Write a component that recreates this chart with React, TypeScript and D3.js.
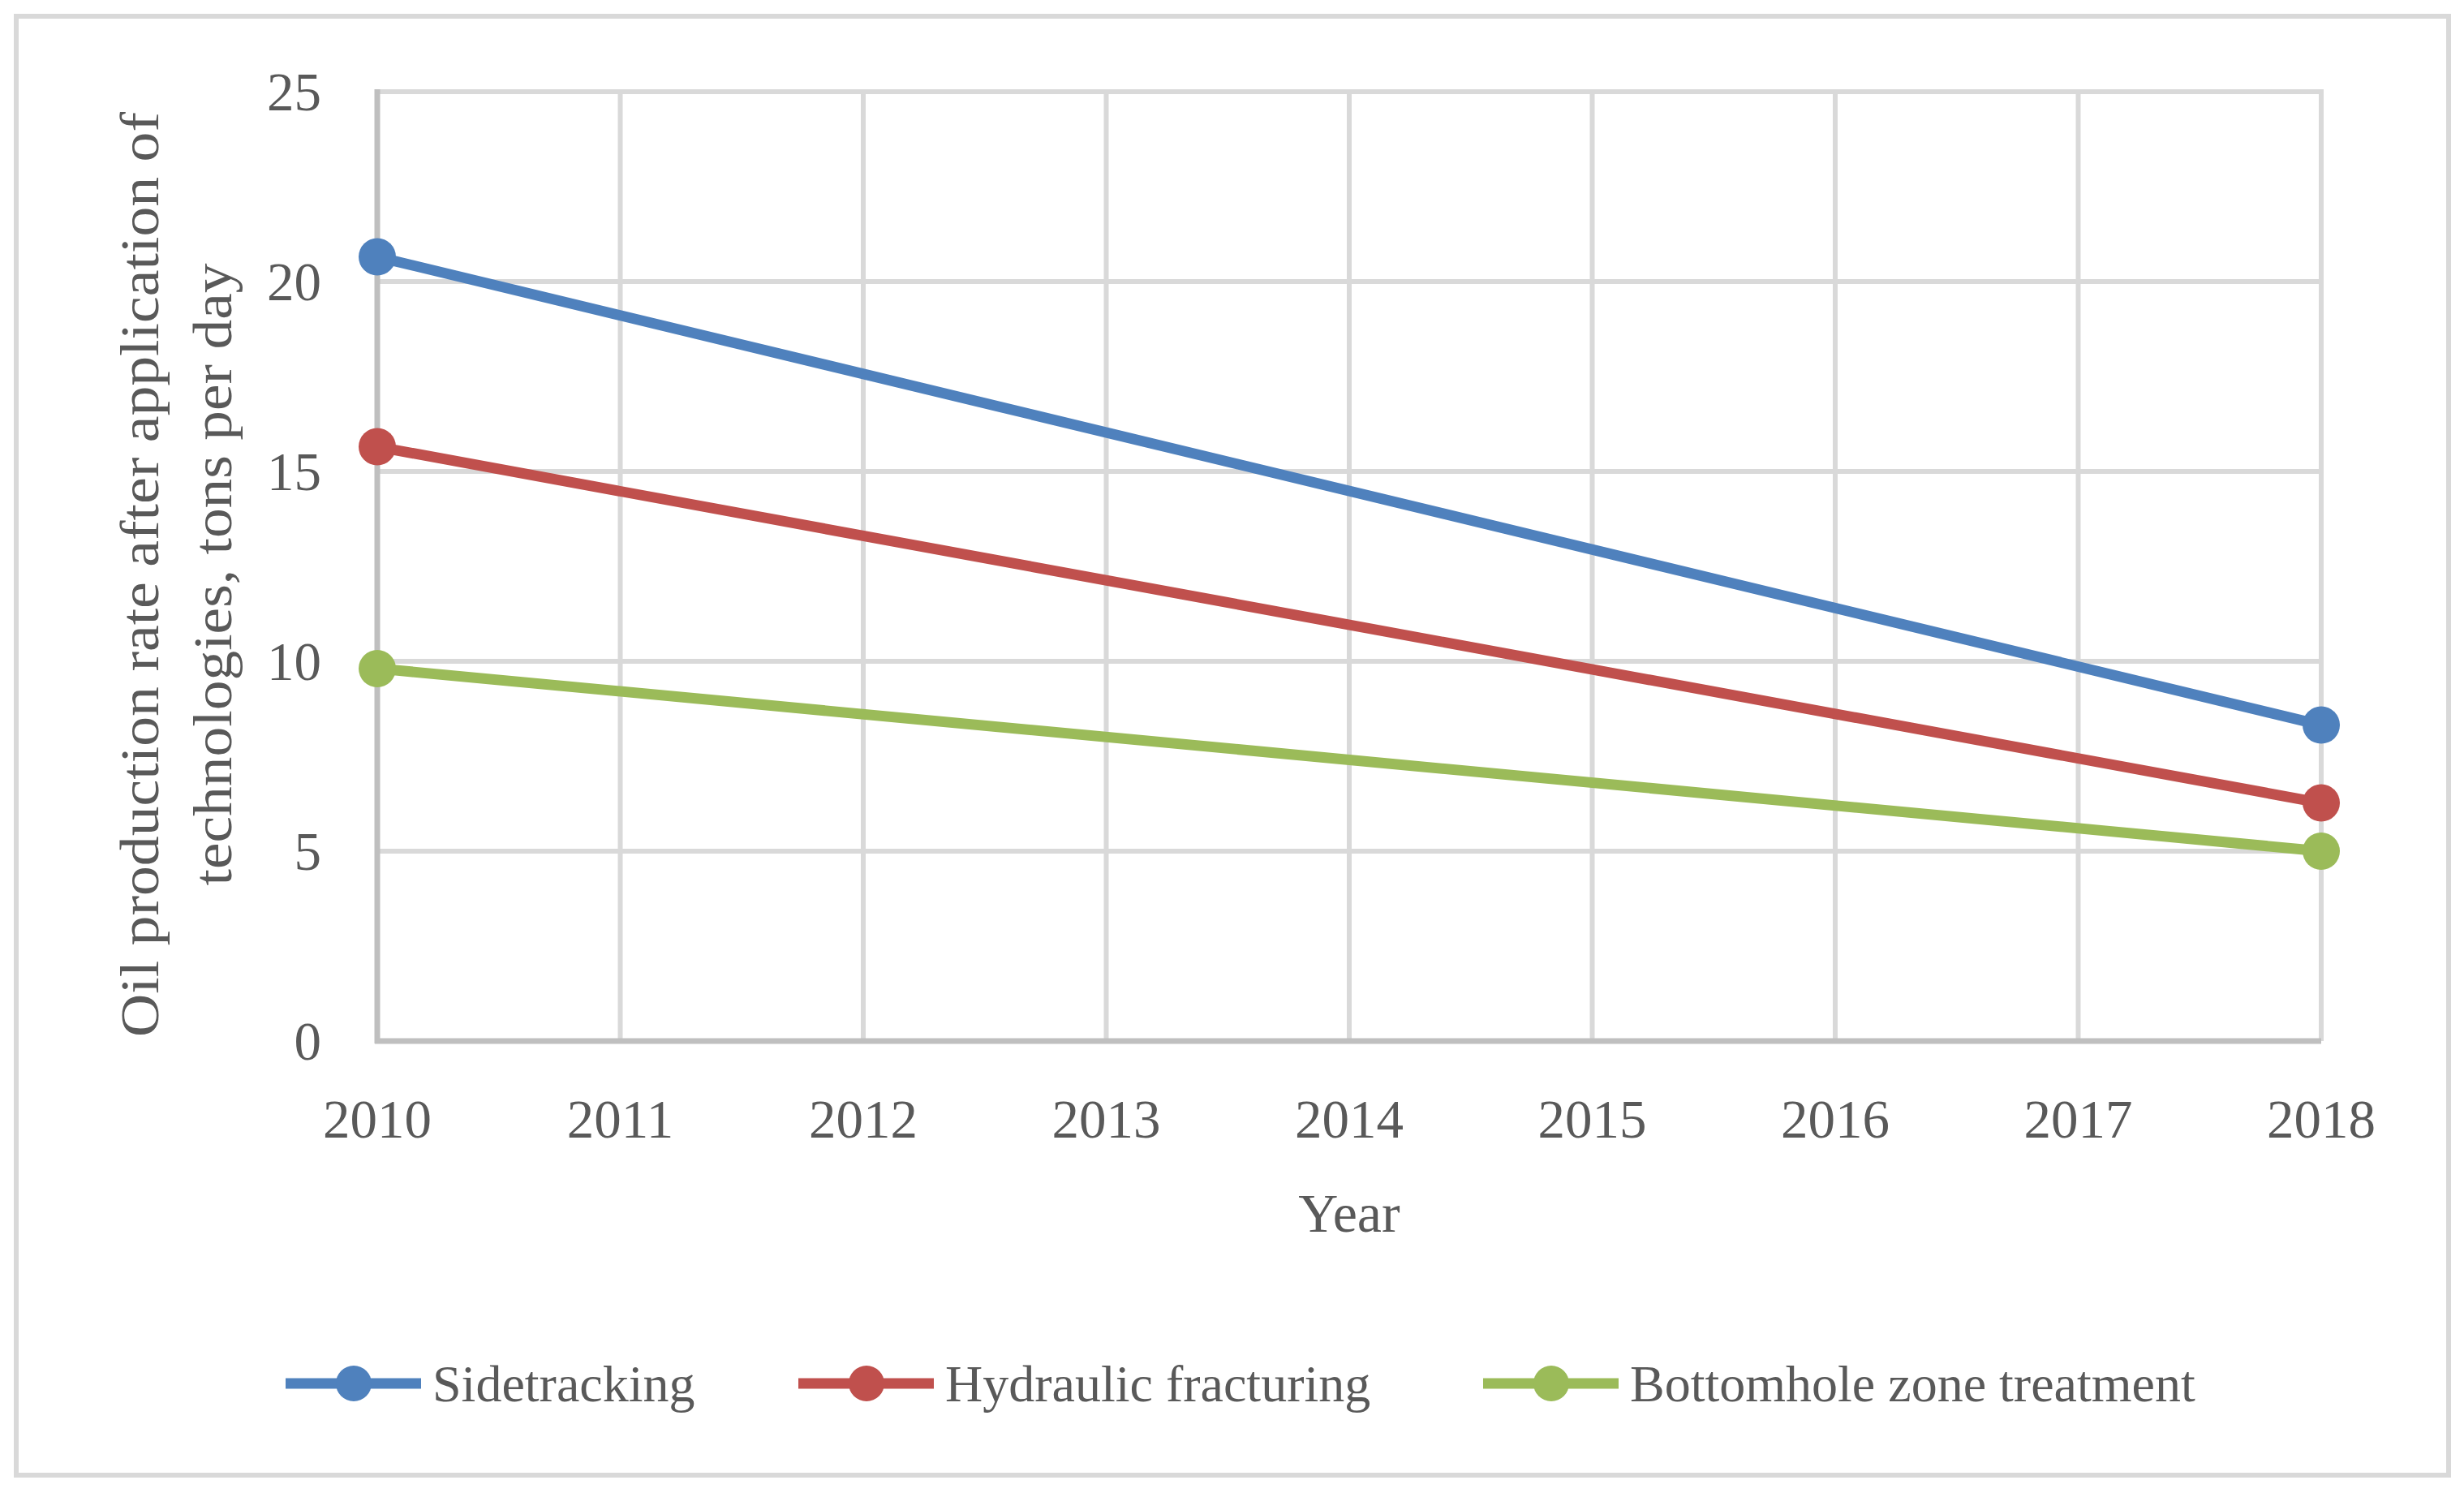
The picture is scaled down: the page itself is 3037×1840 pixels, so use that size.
import React from "react";
import * as d3 from "d3";

const years = [2010, 2011, 2012, 2013, 2014, 2015, 2016, 2017, 2018];
const yTicks = [0, 5, 10, 15, 20, 25];
const seriesNames = ["Sidetracking", "Hydraulic fracturing", "Bottomhole zone treatment"];
const seriesColors = ["#4F81BD", "#C0504D", "#9BBB59"];
const pointYears = [2010, 2018];
const sidetracking = [20.65, 8.32];
const hydraulic = [15.65, 6.27];
const bottomhole = [9.81, 5.0];
const yTitleLines = ["Oil production rate after application of", "technologies, tons per day"];
const xTitle = "Year";

const W = 3037;
const H = 1840;
const FONT = "'Palatino Linotype', 'Book Antiqua', Palatino, 'Liberation Serif', serif";
const TEXT = "#595959";

export default function App() {
  const left = 465, right = 2861, top = 113, bottom = 1283;
  const x = d3.scaleLinear().domain([2010, 2018]).range([left, right]);
  const y = d3.scaleLinear().domain([0, 25]).range([bottom, top]);
  const allSeries = [sidetracking, hydraulic, bottomhole];
  const line = d3
    .line<[number, number]>()
    .x((d) => x(d[0]))
    .y((d) => y(d[1]));

  const legendY = 1705;
  const legendItems = [
    { x0: 352, name: seriesNames[0] },
    { x0: 984, name: seriesNames[1] },
    { x0: 1828, name: seriesNames[2] },
  ];
  const yTitleLengths = [1140, 767];

  return (
    <svg
      width={W}
      height={H}
      style={{ position: "absolute", left: 0, top: 0, background: "#fff" }}
      fontFamily={FONT}
    >
      <rect x={0} y={0} width={W} height={H} fill="#fff" />
      <rect x={20} y={20} width={2998} height={1798} fill="none" stroke="#D9D9D9" strokeWidth={6} />

      {yTicks.filter((t) => t > 0).map((t) => (
        <line key={"hg" + t} x1={left} x2={right} y1={y(t)} y2={y(t)} stroke="#D9D9D9" strokeWidth={6} />
      ))}
      {years.filter((yr) => yr > 2010).map((yr) => (
        <line key={"vg" + yr} x1={x(yr)} x2={x(yr)} y1={top - 3} y2={bottom} stroke="#D9D9D9" strokeWidth={6} />
      ))}
      <line x1={left} x2={left} y1={top - 3} y2={bottom + 3} stroke="#BFBFBF" strokeWidth={7} />
      <line x1={left - 3} x2={right} y1={bottom} y2={bottom} stroke="#BFBFBF" strokeWidth={7} />

      {yTicks.map((t) => (
        <text key={"yt" + t} x={396} y={y(t)} dy="0.35em" textAnchor="end" fontSize={67} fill={TEXT}>
          {t}
        </text>
      ))}
      {years.map((yr) => (
        <text key={"xt" + yr} x={x(yr)} y={1402} textAnchor="middle" fontSize={67} fill={TEXT}>
          {yr}
        </text>
      ))}
      <text x={1663} y={1518} textAnchor="middle" fontSize={68} fill={TEXT}>
        {xTitle}
      </text>
      {yTitleLines.map((l, i) => (
        <text
          key={"ytl" + i}
          transform={`translate(${195 + i * 90}, 708) rotate(-90)`}
          x={-yTitleLengths[i] / 2}
          textLength={yTitleLengths[i]}
          lengthAdjust="spacingAndGlyphs"
          fontSize={68}
          fill={TEXT}
        >
          {l}
        </text>
      ))}

      {allSeries.map((vals, si) => {
        const pts: [number, number][] = pointYears.map((yr, i) => [yr, vals[i]]);
        return (
          <g key={"s" + si}>
            <path d={line(pts) || ""} fill="none" stroke={seriesColors[si]} strokeWidth={13} strokeLinecap="round" />
            {pts.map((p, i) => (
              <circle key={i} cx={x(p[0])} cy={y(p[1])} r={23} fill={seriesColors[si]} />
            ))}
          </g>
        );
      })}

      {legendItems.map((it, i) => (
        <g key={"lg" + i}>
          <line x1={it.x0} x2={it.x0 + 167} y1={legendY} y2={legendY} stroke={seriesColors[i]} strokeWidth={13} />
          <circle cx={it.x0 + 84} cy={legendY} r={22} fill={seriesColors[i]} />
          <text x={it.x0 + 181} y={legendY} dy="0.35em" fontSize={64} fill={TEXT}>
            {it.name}
          </text>
        </g>
      ))}
    </svg>
  );
}
